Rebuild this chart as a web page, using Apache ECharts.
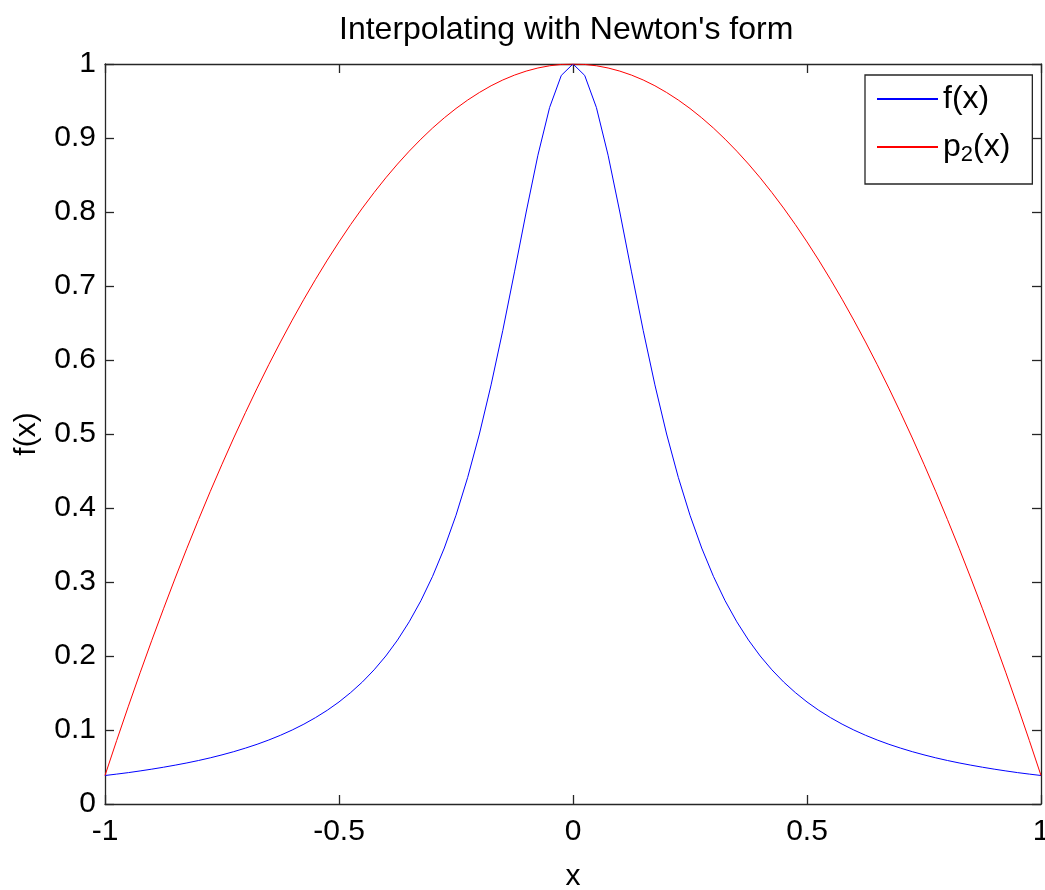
<!DOCTYPE html>
<html>
<head>
<meta charset="utf-8">
<script src="https://cdn.jsdelivr.net/npm/echarts@6/dist/echarts.min.js"></script>
<style>
html,body{margin:0;padding:0;background:#fff;overflow:hidden;}
#chart{width:1045px;height:890px;}
</style>
</head>
<body>
<div id="chart"></div>
<script>
// Sample positions (x)
var xs = [-1, -0.975, -0.95, -0.925, -0.9, -0.875, -0.85, -0.825, -0.8, -0.775, -0.75, -0.725, -0.7, -0.675, -0.65, -0.625,
  -0.6, -0.575, -0.55, -0.525, -0.5, -0.475, -0.45, -0.425, -0.4, -0.375, -0.35, -0.325, -0.3, -0.275, -0.25, -0.225,
  -0.2, -0.175, -0.15, -0.125, -0.1, -0.075, -0.05, -0.025,
  0, 0.025, 0.05, 0.075, 0.1, 0.125, 0.15, 0.175, 0.2, 0.225, 0.25, 0.275, 0.3, 0.325, 0.35, 0.375, 0.4, 0.425,
  0.45, 0.475, 0.5, 0.525, 0.55, 0.575, 0.6, 0.625, 0.65, 0.675, 0.7, 0.725, 0.75, 0.775, 0.8, 0.825, 0.85, 0.875,
  0.9, 0.925, 0.95, 0.975, 1];
// f(x) values (blue)
var fVals = [0.0385, 0.0404, 0.0424, 0.0447, 0.0471, 0.0497, 0.0525, 0.0555, 0.0588, 0.0624, 0.0664, 0.0707, 0.0755, 0.0807, 0.0865, 0.0929,
  0.1, 0.1079, 0.1168, 0.1267, 0.1379, 0.1506, 0.1649, 0.1813, 0.2, 0.2215, 0.2462, 0.2747, 0.3077, 0.3459, 0.3902, 0.4414,
  0.5, 0.5664, 0.64, 0.7191, 0.8, 0.8767, 0.9412, 0.9846,
  1, 0.9846, 0.9412, 0.8767, 0.8, 0.7191, 0.64, 0.5664, 0.5, 0.4414, 0.3902, 0.3459, 0.3077, 0.2747, 0.2462, 0.2215, 0.2, 0.1813,
  0.1649, 0.1506, 0.1379, 0.1267, 0.1168, 0.1079, 0.1, 0.0929, 0.0865, 0.0807, 0.0755, 0.0707, 0.0664, 0.0624, 0.0588, 0.0555, 0.0525, 0.0497,
  0.0471, 0.0447, 0.0424, 0.0404, 0.0385];
// p2(x) values (red)
var pVals = [0.0385, 0.0859, 0.1322, 0.1773, 0.2212, 0.2638, 0.3053, 0.3456, 0.3846, 0.4225, 0.4591, 0.4946, 0.5288, 0.5619, 0.5938, 0.6244,
  0.6538, 0.6821, 0.7091, 0.735, 0.7596, 0.7831, 0.8053, 0.8263, 0.8462, 0.8648, 0.8822, 0.8984, 0.9135, 0.9273, 0.9399, 0.9513,
  0.9615, 0.9706, 0.9784, 0.985, 0.9904, 0.9946, 0.9976, 0.9994,
  1, 0.9994, 0.9976, 0.9946, 0.9904, 0.985, 0.9784, 0.9706, 0.9615, 0.9513, 0.9399, 0.9273, 0.9135, 0.8984, 0.8822, 0.8648, 0.8462, 0.8263,
  0.8053, 0.7831, 0.7596, 0.735, 0.7091, 0.6821, 0.6538, 0.6244, 0.5938, 0.5619, 0.5288, 0.4946, 0.4591, 0.4225, 0.3846, 0.3456, 0.3053, 0.2638,
  0.2212, 0.1773, 0.1322, 0.0859, 0.0385];
var seriesNames = ['f(x)', 'p2(x)'];
var titleText = "Interpolating with Newton's form";

var FONT = "'Liberation Sans', Arial, Helvetica, sans-serif";
function pairs(ys){ return xs.map(function(x,i){ return [x, ys[i]]; }); }

var chart = echarts.init(document.getElementById('chart'), null, {renderer:'canvas', width:1045, height:890});
var axisLineStyle = {color:'#262626', width:1.3};
chart.setOption({
  animation:false,
  backgroundColor:'#fff',
  title:{
    text:titleText, left:334, top:9,
    textStyle:{fontFamily:FONT, fontSize:32, fontWeight:'normal', color:'#000'}
  },
  grid:{left:105, right:4, top:64, bottom:86, containLabel:false, outerBoundsMode:'none'},
  legend:{
    orient:'vertical', left:865, top:75,
    padding:[8, 22, 18, 12], itemGap:16,
    backgroundColor:'#fff', borderColor:'#262626', borderWidth:1.3, borderRadius:0,
    itemWidth:61, itemHeight:2, icon:'rect',
    data:[{name:seriesNames[0]}, {name:seriesNames[1]}],
    formatter:function(n){ return n === 'p2(x)' ? 'p{sub|2}(x)' : n; },
    textStyle:{fontFamily:FONT, fontSize:32, color:'#000',
      rich:{sub:{fontFamily:FONT, fontSize:22, verticalAlign:'bottom', padding:[16,0,0,0], color:'#000'}}}
  },
  xAxis:[{
    type:'value', min:-1, max:1, interval:0.5, position:'bottom',
    name:'x', nameLocation:'middle', nameGap:58,
    nameTextStyle:{fontFamily:FONT, fontSize:30, color:'#000'},
    axisLine:{show:true, onZero:false, lineStyle:axisLineStyle},
    axisTick:{show:true, inside:true, length:9, lineStyle:axisLineStyle},
    axisLabel:{fontFamily:FONT, fontSize:30, color:'#000', margin:13},
    splitLine:{show:false}
  },{
    type:'value', min:-1, max:1, interval:0.5, position:'top',
    axisLine:{show:true, onZero:false, lineStyle:axisLineStyle},
    axisTick:{show:true, inside:true, length:9, lineStyle:axisLineStyle},
    axisLabel:{show:false}, splitLine:{show:false}
  }],
  yAxis:[{
    type:'value', min:0, max:1, interval:0.1, position:'left',
    name:'f(x)', nameLocation:'middle', nameGap:63, nameRotate:90,
    nameTextStyle:{fontFamily:FONT, fontSize:30, color:'#000'},
    axisLine:{show:true, onZero:false, lineStyle:axisLineStyle},
    axisTick:{show:true, inside:true, length:9, lineStyle:axisLineStyle},
    axisLabel:{fontFamily:FONT, fontSize:30, color:'#000', margin:9},
    splitLine:{show:false}
  },{
    type:'value', min:0, max:1, interval:0.1, position:'right',
    axisLine:{show:true, onZero:false, lineStyle:axisLineStyle},
    axisTick:{show:true, inside:true, length:9, lineStyle:axisLineStyle},
    axisLabel:{show:false}, splitLine:{show:false}
  }],
  series:[{
    name:seriesNames[0], type:'line', data:pairs(fVals), showSymbol:false, symbol:'none',
    xAxisIndex:0, yAxisIndex:0,
    lineStyle:{color:'#0000ff', width:1}, itemStyle:{color:'#0000ff'}
  },{
    name:seriesNames[1], type:'line', data:pairs(pVals), showSymbol:false, symbol:'none',
    xAxisIndex:0, yAxisIndex:0,
    lineStyle:{color:'#ff0000', width:1}, itemStyle:{color:'#ff0000'}
  }]
});
</script>
</body>
</html>
